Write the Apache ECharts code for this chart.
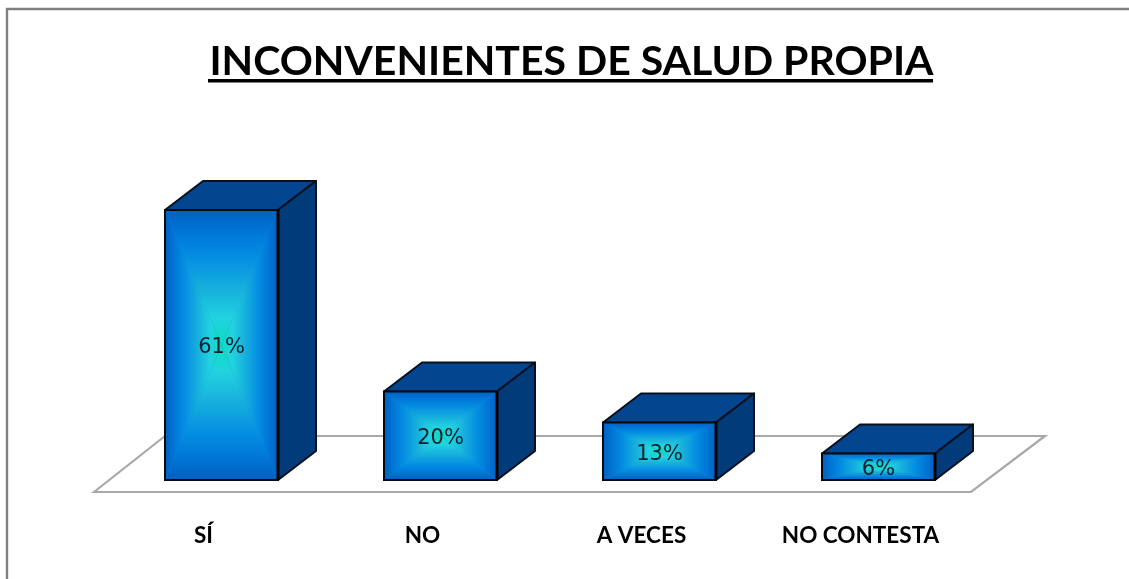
<!DOCTYPE html>
<html><head><meta charset="utf-8">
<style>html,body{margin:0;padding:0;background:#fff}#c{width:1129px;height:579px}</style>
<script src="https://cdn.jsdelivr.net/npm/echarts@6/dist/echarts.min.js"></script>
</head><body><div id="c"></div>
<script>
const titleText = 'INCONVENIENTES DE SALUD PROPIA';
const categories = ['SÍ', 'NO', 'A VECES', 'NO CONTESTA'];
const percentValues = [61, 20, 13, 6];

const edgeStops = [
  {offset:0, color:'#0060c0'},{offset:0.18, color:'#0078d8'},{offset:0.35, color:'#048ee2'},
  {offset:0.6, color:'#18b2dc'},{offset:0.8, color:'#22d2e0'},{offset:0.92, color:'#16d8cc'},{offset:1, color:'#10d8c0'}
];
function grad(x,y,x2,y2){return {type:'linear',x:x,y:y,x2:x2,y2:y2,global:false,colorStops:edgeStops};}
const DX = 38, DY = -29;

function renderBox(params, api){
  const i = api.value(0), v = api.value(1);
  const base = api.coord([i,0]), top = api.coord([i,v]);
  const w = api.size([1,0])[0]*0.516;
  const l = base[0]-w/2, r = base[0]+w/2, t = top[1], b = base[1];
  const cx = (l+r)/2, cy = (t+b)/2;
  const tri = (pts,fill)=>({type:'polygon',shape:{points:pts},style:{fill:fill}});
  return {type:'group',children:[
    {type:'polygon',shape:{points:[[l,t],[l+DX,t+DY],[r+DX,t+DY],[r,t]]},
      style:{fill:'#03468f',stroke:'#08101e',lineWidth:2,lineJoin:'round'}},
    {type:'polygon',shape:{points:[[r,t],[r+DX,t+DY],[r+DX,b+DY],[r,b]]},
      style:{fill:'#023b7a',stroke:'#08101e',lineWidth:2,lineJoin:'round'}},
    {type:'rect',shape:{x:l,y:t,width:r-l,height:b-t},style:{fill:'#0b8fdf'}},
    tri([[l,t],[cx,cy],[l,b]],grad(0,0,1,0)),
    tri([[r,t],[cx,cy],[r,b]],grad(1,0,0,0)),
    tri([[l,t],[r,t],[cx,cy]],grad(0,0,0,1)),
    tri([[l,b],[r,b],[cx,cy]],grad(0,1,0,0)),
    {type:'rect',shape:{x:l,y:t,width:r-l,height:b-t},style:{fill:null,stroke:'#04080f',lineWidth:2}},
    {type:'line',shape:{x1:r,y1:t,x2:r,y2:b},style:{stroke:'#000',lineWidth:3}},
    {type:'text',x:cx,y:cy+3,style:{text:v+'%',fill:'#06222e',font:'21px "DejaVu Sans"',align:'center',verticalAlign:'middle'}}
  ]};
}

const chart = echarts.init(document.getElementById('c'),null,{renderer:'canvas'});
chart.setOption({
  animation:false,
  backgroundColor:'#fff',
  title:{text:titleText,left:566.5,top:36,textAlign:'center',
    textStyle:{fontFamily:'Lato',fontWeight:'bold',fontSize:41,color:'#000'}},
  grid:{left:112,width:876,top:170.2,height:309.8},
  xAxis:{type:'category',data:categories,
    axisLine:{show:false},axisTick:{show:false},
    axisLabel:{margin:44,padding:[0,36,0,0],fontFamily:'Lato',fontWeight:'bold',fontSize:22.5,color:'#000'}},
  yAxis:{type:'value',min:0,max:70,show:false},
  graphic:{elements:[
    {type:'polygon',z:0,shape:{points:[[94,492],[165,436],[1045,436],[971,492]]},
      style:{fill:'#fff',stroke:'#a8a8a8',lineWidth:2.2}},
    {type:'polyline',z:0,shape:{points:[[7,579],[7,9],[1129,9]]},
      style:{fill:null,stroke:'#808080',lineWidth:2.4}},
    {type:'rect',z:1,shape:{x:208,y:79,width:725,height:3.5},style:{fill:'#000'}}
  ]},
  series:[{type:'custom',z:2,renderItem:renderBox,
    encode:{x:0,y:1},
    data:percentValues.map((v,i)=>[i,v])}]
});
</script></body></html>
